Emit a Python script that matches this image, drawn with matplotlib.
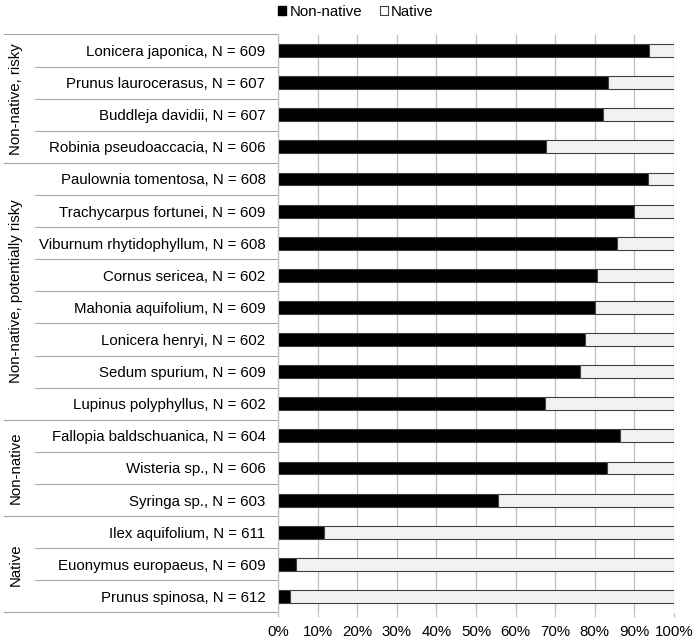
import matplotlib
matplotlib.use("Agg")
import matplotlib.pyplot as plt
from matplotlib.patches import Patch
from matplotlib.transforms import blended_transform_factory

plt.rcParams['font.family'] = ['Liberation Sans', 'DejaVu Sans']

species = ["Lonicera japonica, N = 609", "Prunus laurocerasus, N = 607",
           "Buddleja davidii, N = 607", "Robinia pseudoaccacia, N = 606",
           "Paulownia tomentosa, N = 608", "Trachycarpus fortunei, N = 609",
           "Viburnum rhytidophyllum, N = 608", "Cornus sericea, N = 602",
           "Mahonia aquifolium, N = 609", "Lonicera henryi, N = 602",
           "Sedum spurium, N = 609", "Lupinus polyphyllus, N = 602",
           "Fallopia baldschuanica, N = 604", "Wisteria sp., N = 606",
           "Syringa sp., N = 603", "Ilex aquifolium, N = 611",
           "Euonymus europaeus, N = 609", "Prunus spinosa, N = 612"]
non_native = [93.6, 83.3, 82.0, 67.6, 93.4, 90.0, 85.5, 80.6, 80.1, 77.4,
              76.2, 67.4, 86.4, 83.0, 55.6, 11.5, 4.5, 3.0]
native = [100 - v for v in non_native]
groups = ["Non-native, risky", "Non-native, potentially risky", "Non-native", "Native"]
group_sizes = [4, 8, 3, 3]
xticks = [0, 10, 20, 30, 40, 50, 60, 70, 80, 90, 100]
xticklabels = [f"{t}%" for t in xticks]

W, H = 697, 640
fig = plt.figure(figsize=(W / 100, H / 100), dpi=100)
L, R, T, B = 278, 674, 34.5, 612.5
ax = fig.add_axes([L / W, 1 - B / H, (R - L) / W, (B - T) / H])

grid_c = "#bfbfbf"
line_c = "#a6a6a6"
edge_c = "#404040"
fs = 10.8

y = list(range(len(species)))
ax.barh(y, non_native, height=0.4, color="black", edgecolor=edge_c, linewidth=0.8, zorder=3)
ax.barh(y, native, left=non_native, height=0.4, color="#f2f2f2", edgecolor=edge_c, linewidth=0.8, zorder=3)

ax.set_xlim(0, 100)
ax.set_ylim(len(species) - 0.5, -0.5)
ax.set_xticks(xticks)
ax.set_xticklabels(xticklabels, fontsize=fs)
ax.tick_params(axis='x', length=3, color=grid_c, pad=6)
ax.set_yticks(y)
ax.set_yticklabels(species, fontsize=fs)
ax.tick_params(axis='y', length=0, pad=9)
ax.grid(axis='x', color=grid_c, linewidth=0.9, zorder=0)
for s in ['top', 'right', 'bottom']:
    ax.spines[s].set_visible(False)
ax.spines['left'].set_color(grid_c)
ax.spines['left'].set_zorder(4)

tr = blended_transform_factory(fig.transFigure, ax.transData)
boundaries = [i - 0.5 for i in range(len(species) + 1)]
group_edges = [-0.5]
acc = -0.5
for g in group_sizes:
    acc += g
    group_edges.append(acc)
for b in boundaries:
    is_group = any(abs(b - g) < 1e-6 for g in group_edges)
    x0 = 4 / W if is_group else 35 / W
    ax.plot([x0, L / W], [b, b], transform=tr, color=line_c, linewidth=0.8, clip_on=False)

start = -0.5
for g, n in zip(groups, group_sizes):
    ax.text(16 / W, start + n / 2, g, transform=tr, rotation=90, ha='center', va='center', fontsize=fs)
    start += n

handles = [Patch(facecolor="black", edgecolor="black", label="Non-native"),
           Patch(facecolor="white", edgecolor="#404040", linewidth=0.8, label="Native")]
fig.legend(handles=handles, loc='center', bbox_to_anchor=(356 / W, 1 - 12 / H), ncol=2,
           frameon=False, fontsize=fs, handlelength=0.5, handleheight=0.5,
           handletextpad=0.25, columnspacing=1.2)

fig.savefig("out.png", dpi=100)
